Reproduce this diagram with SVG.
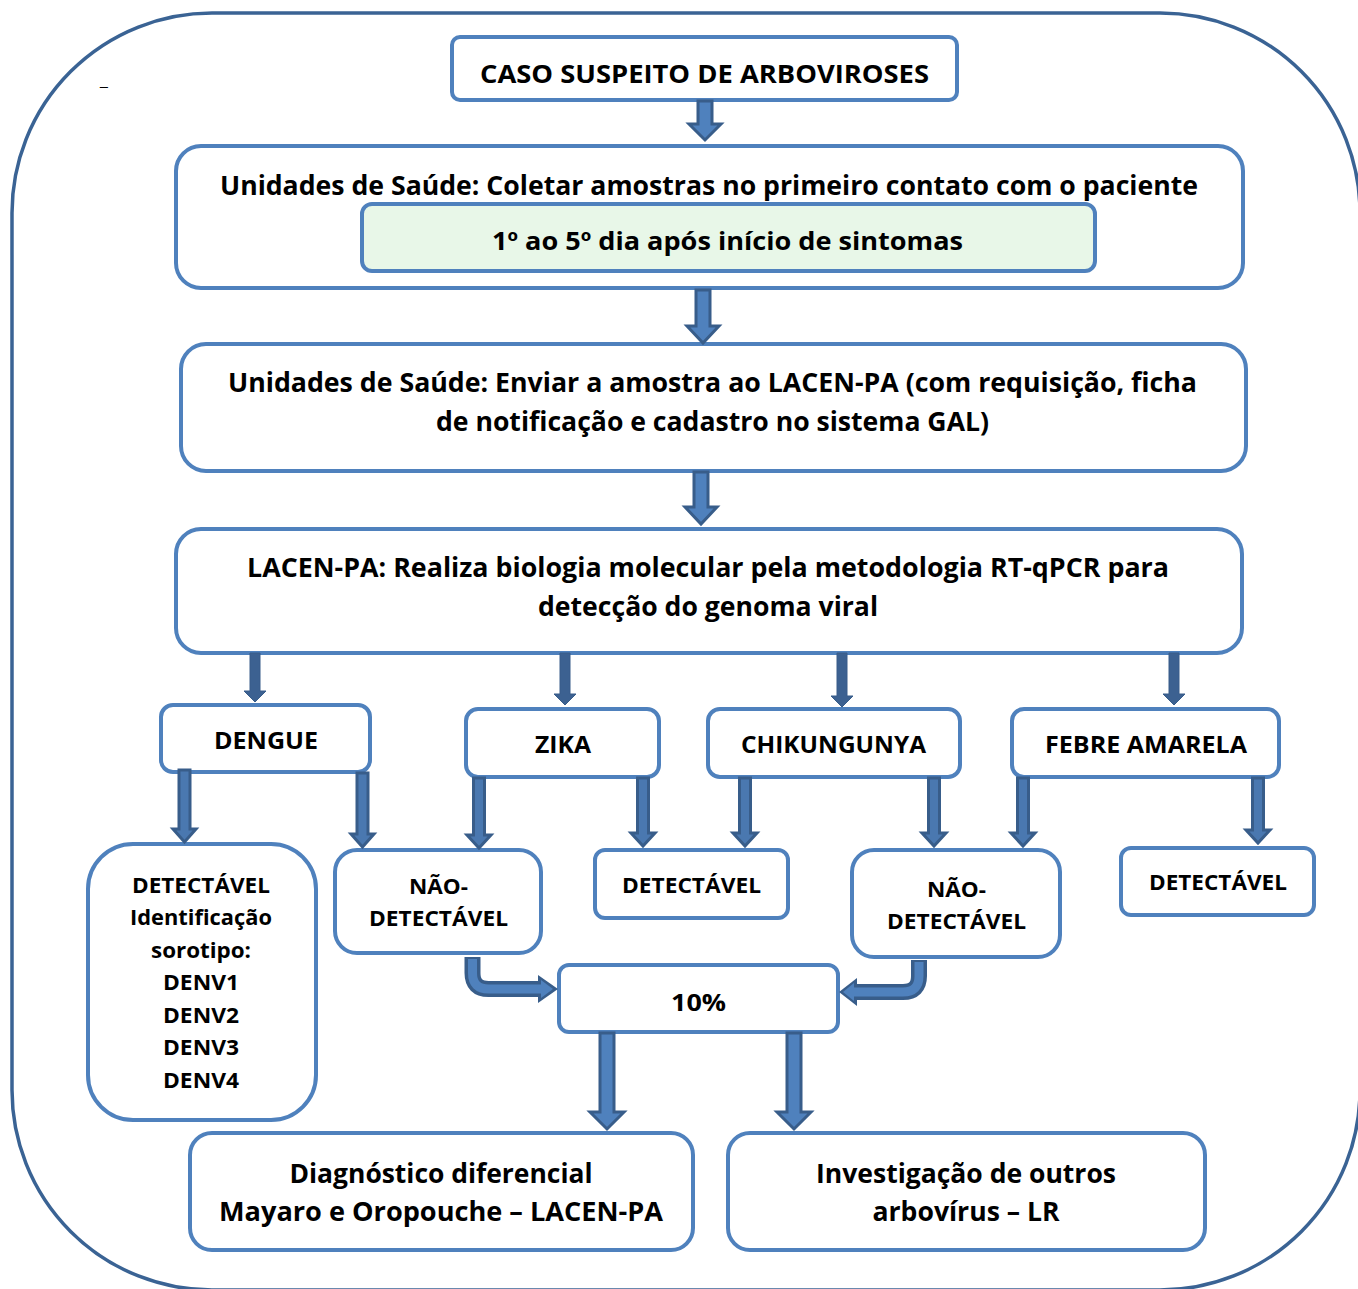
<svg xmlns="http://www.w3.org/2000/svg" width="1358" height="1289" viewBox="0 0 1358 1289">
<style>
.box{fill:#fff;stroke:#4f81bd;stroke-width:4}
.green{fill:#e8f7e8;stroke:#4f81bd;stroke-width:4}
.t{font-family:"Open Sans","Liberation Sans",sans-serif;font-weight:bold;fill:#000;text-anchor:middle}
.f25{font-size:25px}
.f24{font-size:24px}
.f22{font-size:21px}
.f26{font-size:26px}
.arA{fill:#4f81bd;stroke:#385d8a;stroke-width:3;stroke-linejoin:miter}
.arB{fill:#3c6191;stroke:#385d8a;stroke-width:1}
.arC{fill:#4a78b0;stroke:#385d8a;stroke-width:3}
.bendO{fill:none;stroke:#385d8a;stroke-width:16}
.bendI{fill:none;stroke:#4f81bd;stroke-width:9}
.headO{fill:#385d8a}
.headI{fill:#4f81bd}
</style>
<rect x="12" y="13" width="1348" height="1277" rx="200" ry="200" fill="#fff" stroke="#3a6394" stroke-width="3.5"/>
<text x="100" y="85" font-family="Liberation Sans, sans-serif" font-size="14" fill="#000">_</text>

<g id="n-caso"><rect class="box" x="452" y="37" width="505" height="63" rx="8"/><text class="t f25" x="704.5" y="83" textLength="449" lengthAdjust="spacingAndGlyphs">CASO SUSPEITO DE ARBOVIROSES</text></g>
<g id="n-coletar"><rect class="box" x="176" y="146" width="1067" height="142" rx="25"/><text class="t f26" x="709" y="195" textLength="978" lengthAdjust="spacingAndGlyphs">Unidades de Saúde: Coletar amostras no primeiro contato com o paciente</text></g>
<g id="n-dias"><rect class="green" x="362" y="204" width="733" height="67" rx="10"/><text class="t f25" x="727.5" y="250" textLength="471" lengthAdjust="spacingAndGlyphs">1º ao 5º dia após início de sintomas</text></g>
<g id="n-enviar"><rect class="box" x="181" y="344" width="1065" height="127" rx="25"/><text class="t f26" x="712.5" y="392" textLength="969" lengthAdjust="spacingAndGlyphs">Unidades de Saúde: Enviar a amostra ao LACEN-PA (com requisição, ficha</text><text class="t f26" x="712.5" y="431" textLength="553" lengthAdjust="spacingAndGlyphs">de notificação e cadastro no sistema GAL)</text></g>
<g id="n-lacen"><rect class="box" x="176" y="529" width="1066" height="124" rx="25"/><text class="t f26" x="708" y="577" textLength="922" lengthAdjust="spacingAndGlyphs">LACEN-PA: Realiza biologia molecular pela metodologia RT-qPCR para</text><text class="t f26" x="708" y="616" textLength="340" lengthAdjust="spacingAndGlyphs">detecção do genoma viral</text></g>

<g id="n-dengue"><rect class="box" x="161" y="705" width="209" height="67" rx="12"/><text class="t f24" x="266" y="749" textLength="104" lengthAdjust="spacingAndGlyphs">DENGUE</text></g>
<g id="n-zika"><rect class="box" x="466" y="709" width="193" height="68" rx="12"/><text class="t f24" x="563" y="753" textLength="56" lengthAdjust="spacingAndGlyphs">ZIKA</text></g>
<g id="n-chik"><rect class="box" x="708" y="709" width="252" height="68" rx="12"/><text class="t f24" x="833.5" y="753" textLength="185" lengthAdjust="spacingAndGlyphs">CHIKUNGUNYA</text></g>
<g id="n-febre"><rect class="box" x="1012" y="709" width="267" height="68" rx="12"/><text class="t f24" x="1146" y="753" textLength="202" lengthAdjust="spacingAndGlyphs">FEBRE AMARELA</text></g>

<g id="n-det-dengue"><rect class="box" x="88" y="844" width="228" height="276" rx="45"/>
<text class="t f22" x="201" y="893" textLength="138" lengthAdjust="spacingAndGlyphs">DETECTÁVEL</text>
<text class="t f22" x="201" y="925" textLength="142" lengthAdjust="spacingAndGlyphs">Identificação</text>
<text class="t f22" x="201" y="958" textLength="100" lengthAdjust="spacingAndGlyphs">sorotipo:</text>
<text class="t f22" x="201" y="990" textLength="76" lengthAdjust="spacingAndGlyphs">DENV1</text>
<text class="t f22" x="201" y="1023" textLength="76" lengthAdjust="spacingAndGlyphs">DENV2</text>
<text class="t f22" x="201" y="1055" textLength="76" lengthAdjust="spacingAndGlyphs">DENV3</text>
<text class="t f22" x="201" y="1088" textLength="76" lengthAdjust="spacingAndGlyphs">DENV4</text></g>
<g id="n-nao-left"><rect class="box" x="335" y="850" width="206" height="103" rx="22"/><text class="t f22" x="438.5" y="894" textLength="59" lengthAdjust="spacingAndGlyphs">NÃO-</text><text class="t f22" x="438.5" y="926" textLength="139" lengthAdjust="spacingAndGlyphs">DETECTÁVEL</text></g>
<g id="n-det-zika"><rect class="box" x="595" y="850" width="193" height="68" rx="10"/><text class="t f22" x="691.5" y="893" textLength="139" lengthAdjust="spacingAndGlyphs">DETECTÁVEL</text></g>
<g id="n-nao-right"><rect class="box" x="852" y="850" width="208" height="107" rx="22"/><text class="t f22" x="956.5" y="897" textLength="59" lengthAdjust="spacingAndGlyphs">NÃO-</text><text class="t f22" x="956.5" y="929" textLength="139" lengthAdjust="spacingAndGlyphs">DETECTÁVEL</text></g>
<g id="n-det-febre"><rect class="box" x="1121" y="848" width="193" height="67" rx="10"/><text class="t f22" x="1218" y="890" textLength="138" lengthAdjust="spacingAndGlyphs">DETECTÁVEL</text></g>

<g id="n-10"><rect class="box" x="559" y="965" width="279" height="67" rx="10"/><text class="t f24" x="698.5" y="1011" textLength="55" lengthAdjust="spacingAndGlyphs">10%</text></g>
<g id="n-diag"><rect class="box" x="190" y="1133" width="503" height="117" rx="22"/><text class="t f26" x="441" y="1183" textLength="303" lengthAdjust="spacingAndGlyphs">Diagnóstico diferencial</text><text class="t f26" x="441" y="1221" textLength="444" lengthAdjust="spacingAndGlyphs">Mayaro e Oropouche – LACEN-PA</text></g>
<g id="n-inv"><rect class="box" x="728" y="1133" width="477" height="117" rx="22"/><text class="t f26" x="966" y="1183" textLength="300" lengthAdjust="spacingAndGlyphs">Investigação de outros</text><text class="t f26" x="966" y="1221" textLength="187" lengthAdjust="spacingAndGlyphs">arbovírus – LR</text></g>

<g id="connectors">
<path class="arA" d="M698,101 H712 V124 H721 L705,140 L689,124 H698 Z"/>
<path class="arA" d="M696,290 H710 V326 H719 L703,343 L687,326 H696 Z"/>
<path class="arA" d="M694,472 H708 V507 H717 L701,524 L685,507 H694 Z"/>

<path class="arB" d="M250,653 H260 V691 H266 L255,702 L244,691 H250 Z"/>
<path class="arB" d="M560,653 H570 V694 H576 L565,705 L554,694 H560 Z"/>
<path class="arB" d="M837,653 H847 V696 H853 L842,707 L831,696 H837 Z"/>
<path class="arB" d="M1169,653 H1179 V694 H1185 L1174,705 L1163,694 H1169 Z"/>

<path class="arC" d="M179,770 H190 V829 H196 L184.5,842 L173,829 H179 Z"/>
<path class="arC" d="M357,773 H368 V834 H374 L362.5,847 L351,834 H357 Z"/>
<path class="arC" d="M473.5,778 H484.5 V835 H491 L479,848 L467,835 H473.5 Z"/>
<path class="arC" d="M637.5,778 H648.5 V833 H655 L643,846 L631,833 H637.5 Z"/>
<path class="arC" d="M739.5,778 H750.5 V833 H757 L745,846 L733,833 H739.5 Z"/>
<path class="arC" d="M928.5,778 H939.5 V833 H946 L934,846 L922,833 H928.5 Z"/>
<path class="arC" d="M1017.5,778 H1028.5 V833 H1035 L1023,846 L1011,833 H1017.5 Z"/>
<path class="arC" d="M1252.5,778 H1263.5 V830 H1270 L1258,843 L1246,830 H1252.5 Z"/>

<path class="arA" d="M600,1033 H614 V1112 H624 L607,1129 L590,1112 H600 Z"/>
<path class="arA" d="M787,1033 H801 V1112 H811 L794,1129 L777,1112 H787 Z"/>

<path class="bendO" d="M472.5,957 V973 Q472.5,989 488.5,989 H542"/>
<polygon class="headO" points="538,975 558,989 538,1003"/>
<path class="bendI" d="M472.5,959 V973 Q472.5,989 488.5,989 H543"/>
<polygon class="headI" points="541,980 553,989 541,998"/>

<path class="bendO" d="M919,960 V976 Q919,992 903,992 H853"/>
<polygon class="headO" points="857,978 839,992 857,1006"/>
<path class="bendI" d="M919,962 V976 Q919,992 903,992 H852"/>
<polygon class="headI" points="854,983 843,992 854,1001"/>
</g>
</svg>
